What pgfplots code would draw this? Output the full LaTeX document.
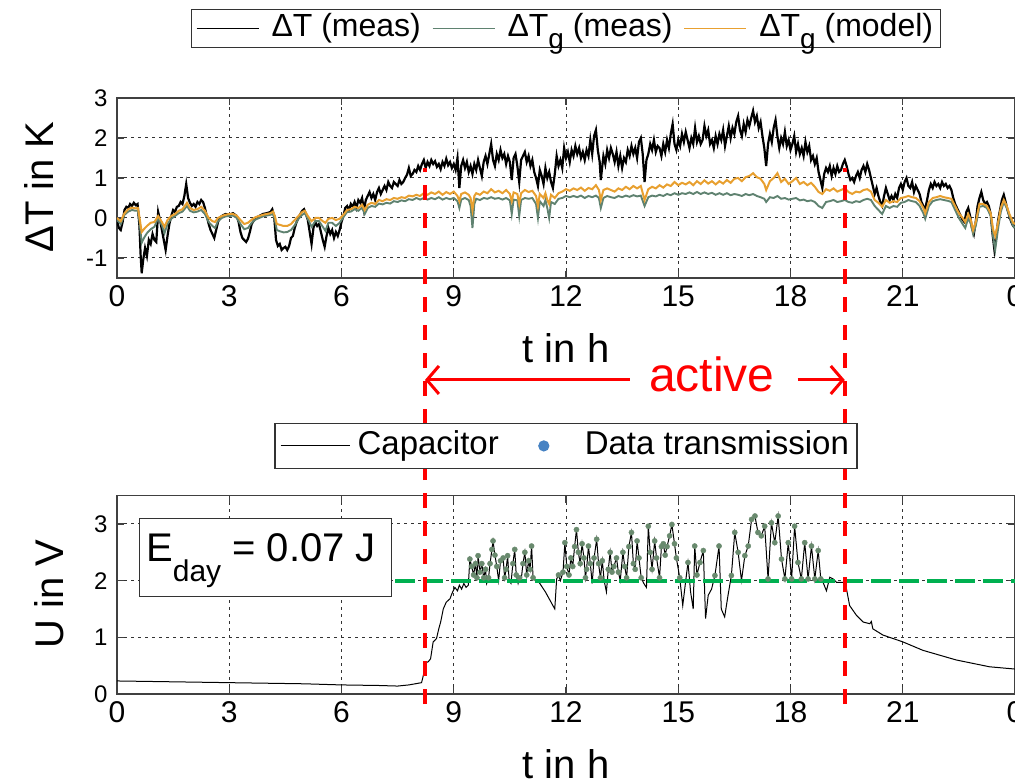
\documentclass[border=0pt]{standalone}
\usepackage{pgfplots}
\pgfplotsset{compat=1.18}
\usepackage{fontspec}
\setmainfont{Liberation Sans}
\usetikzlibrary{arrows.meta}
\definecolor{tealg}{RGB}{95,130,112}
\definecolor{orgm}{RGB}{232,160,48}
\definecolor{dtgreen}{RGB}{105,138,110}
\definecolor{dtblue}{RGB}{70,130,195}
\definecolor{grn}{RGB}{0,176,80}
\newcommand\subg{\raisebox{-0.38em}{\fontsize{28}{28}\selectfont g}}
\pgfplotsset{mystyle/.style={scale only axis, width=898pt, xmin=0, xmax=24,
  xtick={0,3,...,24}, xticklabels={0,3,6,9,12,15,18,21,0},
  grid=major, major grid style={dash pattern=on 3pt off 4pt, black!80, line width=1pt},
  axis line style={black!75, line width=1.5pt},
  tick style={black!75, line width=1.2pt}, tick align=inside, major tick length=7pt,
  xticklabel style={font=\fontsize{30}{30}\selectfont, yshift=-4pt},
  yticklabel style={font=\fontsize{24}{24}\selectfont, xshift=-6pt},
  /pgf/number format/assume math mode=true,
  label style={font=\fontsize{40}{40}\selectfont},
  legend cell align=left}}
\begin{document}
\begin{tikzpicture}
\path[use as bounding box] (0pt,0pt) rectangle (1015pt,784pt);
\clip (0pt,0pt) rectangle (1015pt,784pt);
% ---------------- top axis
\begin{axis}[mystyle, at={(117pt,506pt)}, anchor=south west, height=180pt,
  ymin=-1.5, ymax=3, ytick={-1,0,1,2,3},
  xlabel={t in h}, ylabel={ΔT in K},
  xlabel style={at={(axis description cs:0.5,-0.389)}, anchor=center},
  ylabel style={at={(axis description cs:-0.087,0.506)}, anchor=center},
  legend style={at={(0.5,1.278)}, anchor=south, legend columns=3, draw=black!80, line width=1.2pt,
    font=\fontsize{32}{32}\selectfont, inner xsep=4pt, inner ysep=3pt,
    nodes={inner ysep=0pt, inner xsep=3pt, text height=24pt, text depth=8pt},
    /tikz/every even column/.append style={column sep=8pt}}]
\addplot[black, line width=2.2pt, legend image code/.code={\draw[black,line width=1.3pt](0pt,0pt)--(62pt,0pt); \draw[draw=none] (62pt,0pt)--(72pt,0pt);}] coordinates {
(0.00,-0.05) (0.05,-0.25) (0.10,-0.30) (0.15,-0.10) (0.20,0.20) (0.25,0.28) (0.30,0.25) (0.35,0.35) (0.40,0.30) (0.45,0.38)
(0.50,0.32) (0.55,0.35) (0.60,-0.20) (0.63,-0.90) (0.66,-1.38) (0.70,-1.05) (0.75,-0.75) (0.80,-0.95) (0.85,-0.55) (0.90,-0.65)
(0.95,-0.40) (1.00,-0.55) (1.05,-0.60) (1.10,0.15) (1.15,-0.05) (1.20,-0.30) (1.25,-0.55) (1.30,-0.80) (1.35,-0.45) (1.40,-0.15)
(1.45,0.05) (1.50,0.20) (1.55,0.15) (1.60,0.28) (1.65,0.30) (1.70,0.40) (1.75,0.35) (1.80,0.55) (1.85,0.85) (1.90,0.50)
(1.95,0.38) (2.00,0.30) (2.05,0.35) (2.10,0.28) (2.15,0.40) (2.20,0.35) (2.25,0.45) (2.30,0.40) (2.35,0.25) (2.40,0.05)
(2.45,-0.15) (2.50,-0.30) (2.55,-0.40) (2.60,-0.50) (2.65,-0.30) (2.70,-0.10) (2.75,0.00) (2.80,0.05) (2.90,0.10) (3.00,0.08)
(3.10,0.12) (3.20,0.05) (3.25,-0.10) (3.30,-0.35) (3.35,-0.50) (3.40,-0.55) (3.45,-0.60) (3.50,-0.52) (3.55,-0.35) (3.60,-0.15)
(3.70,0.00) (3.80,0.05) (3.90,0.10) (4.00,0.12) (4.10,0.15) (4.15,0.22) (4.20,0.05) (4.25,-0.55) (4.30,-0.70) (4.35,-0.65)
(4.40,-0.80) (4.45,-0.75) (4.50,-0.72) (4.55,-0.80) (4.60,-0.70) (4.65,-0.50) (4.70,-0.45) (4.75,-0.25) (4.80,-0.10) (4.85,0.00)
(4.90,0.10) (4.95,0.18) (5.00,0.22) (5.05,0.10) (5.10,-0.05) (5.15,-0.35) (5.20,-0.65) (5.25,-0.25) (5.30,-0.10) (5.35,-0.20)
(5.40,-0.15) (5.45,-0.35) (5.50,-0.55) (5.55,-0.72) (5.60,-0.45) (5.65,-0.25) (5.70,-0.40) (5.75,-0.30) (5.80,-0.50) (5.85,-0.35)
(5.90,-0.45) (5.95,-0.30) (6.00,-0.10) (6.05,0.05) (6.10,0.25) (6.15,0.30) (6.20,0.20) (6.25,0.35) (6.30,0.28) (6.35,0.40)
(6.40,0.25) (6.45,0.45) (6.50,0.38) (6.55,0.50) (6.60,0.20) (6.65,0.45) (6.70,0.55) (6.75,0.65) (6.80,0.50) (6.85,0.60)
(6.90,0.45) (6.95,0.65) (7.00,0.75) (7.05,0.60) (7.10,0.70) (7.15,0.80) (7.20,0.70) (7.25,0.90) (7.30,0.80) (7.35,0.75)
(7.40,0.90) (7.45,0.85) (7.50,0.80) (7.55,0.95) (7.60,0.85) (7.65,0.90) (7.70,1.00) (7.75,1.08) (7.80,1.25) (7.85,1.05)
(7.90,1.10) (7.95,1.20) (8.00,1.15) (8.05,1.30) (8.10,1.20) (8.15,1.35) (8.20,1.45) (8.25,1.25) (8.30,1.40) (8.35,1.30)
(8.40,1.45) (8.45,1.35) (8.50,1.42) (8.55,1.28) (8.60,1.35) (8.65,1.22) (8.70,1.40) (8.75,1.30) (8.80,1.48) (8.85,1.32)
(8.90,1.40) (8.95,1.25) (9.00,1.35) (9.05,1.20) (9.10,1.50) (9.15,0.75) (9.20,1.30) (9.25,1.45) (9.30,1.25) (9.35,1.40)
(9.40,1.15) (9.45,1.30) (9.50,1.10) (9.55,1.35) (9.60,1.20) (9.65,1.45) (9.70,1.25) (9.75,1.05) (9.80,1.40) (9.85,1.55)
(9.90,1.35) (9.95,1.60) (10.00,1.85) (10.05,1.45) (10.10,1.30) (10.15,1.60) (10.20,1.45) (10.25,1.70) (10.30,1.50) (10.35,1.60)
(10.40,1.35) (10.45,1.55) (10.50,1.40) (10.55,0.95) (10.60,1.50) (10.65,1.60) (10.70,1.30) (10.75,0.90) (10.80,1.45) (10.85,1.55)
(10.90,1.65) (10.95,1.40) (11.00,1.55) (11.05,1.30) (11.10,1.45) (11.15,1.15) (11.20,1.00) (11.25,0.80) (11.30,1.20) (11.35,1.05)
(11.40,0.85) (11.45,1.25) (11.50,1.00) (11.55,1.15) (11.60,0.90) (11.65,0.75) (11.70,1.10) (11.75,1.55) (11.80,1.30) (11.85,1.45)
(11.90,1.25) (11.95,1.75) (12.00,1.50) (12.05,1.65) (12.10,1.40) (12.15,1.70) (12.20,1.55) (12.25,1.80) (12.30,1.60) (12.35,1.75)
(12.40,1.50) (12.45,1.65) (12.50,1.45) (12.55,1.70) (12.60,1.55) (12.65,1.95) (12.70,1.60) (12.75,2.05) (12.80,2.20) (12.85,1.70)
(12.90,1.40) (12.93,0.95) (12.97,1.30) (13.00,1.55) (13.05,1.35) (13.10,1.70) (13.15,1.50) (13.20,1.75) (13.25,1.60) (13.30,1.40)
(13.35,1.65) (13.40,1.30) (13.45,1.55) (13.50,1.25) (13.55,1.50) (13.60,1.40) (13.65,1.70) (13.70,1.55) (13.75,1.80) (13.80,1.60)
(13.85,1.75) (13.90,1.50) (13.95,1.90) (14.00,2.00) (14.05,1.60) (14.10,0.90) (14.15,1.45) (14.20,1.60) (14.25,1.85) (14.30,1.70)
(14.35,1.95) (14.40,1.65) (14.45,1.80) (14.50,1.75) (14.55,1.55) (14.60,1.85) (14.65,1.65) (14.70,1.95) (14.75,1.75) (14.80,2.10)
(14.85,2.35) (14.90,1.85) (14.95,1.70) (15.00,1.95) (15.05,1.80) (15.10,2.10) (15.15,1.90) (15.20,2.15) (15.25,1.95) (15.30,1.75)
(15.35,2.00) (15.40,1.85) (15.45,2.25) (15.50,1.90) (15.55,2.05) (15.60,1.85) (15.65,1.95) (15.70,2.30) (15.75,2.05) (15.80,2.20)
(15.85,1.85) (15.90,1.95) (15.95,1.75) (16.00,2.05) (16.05,1.85) (16.10,2.10) (16.15,1.95) (16.20,2.20) (16.25,1.80) (16.30,2.05)
(16.35,2.30) (16.40,2.00) (16.45,2.25) (16.50,2.10) (16.55,2.40) (16.60,2.55) (16.65,2.20) (16.70,2.05) (16.75,2.35) (16.80,2.15)
(16.85,2.45) (16.90,2.30) (16.95,2.50) (17.00,2.68) (17.05,2.40) (17.10,2.55) (17.15,2.25) (17.20,2.40) (17.25,2.05) (17.30,1.75)
(17.35,1.30) (17.40,1.85) (17.45,2.10) (17.50,1.90) (17.55,2.25) (17.60,2.45) (17.65,2.05) (17.70,1.75) (17.75,2.00) (17.80,1.85)
(17.85,2.15) (17.90,1.80) (17.95,1.95) (18.00,1.70) (18.05,1.85) (18.10,2.05) (18.15,1.65) (18.20,1.85) (18.25,1.60) (18.30,1.75)
(18.35,1.55) (18.40,1.90) (18.45,1.65) (18.50,1.80) (18.55,1.45) (18.60,1.55) (18.65,1.35) (18.70,1.50) (18.75,1.15) (18.80,0.95)
(18.85,0.75) (18.90,1.10) (18.95,1.25) (19.00,1.15) (19.05,1.30) (19.10,1.05) (19.15,1.25) (19.20,1.10) (19.25,1.30) (19.30,1.15)
(19.35,1.20) (19.40,1.35) (19.45,1.45) (19.50,1.30) (19.55,1.10) (19.60,0.95) (19.65,1.00) (19.70,0.90) (19.75,1.05) (19.80,1.15)
(19.85,1.00) (19.90,1.20) (19.95,1.30) (20.00,1.15) (20.05,1.35) (20.10,1.20) (20.15,1.00) (20.20,0.80) (20.25,0.60) (20.30,0.75)
(20.35,0.55) (20.40,0.40) (20.45,0.30) (20.50,0.55) (20.55,0.75) (20.60,0.60) (20.65,0.45) (20.70,0.55) (20.75,0.45) (20.80,0.60)
(20.85,0.50) (20.90,0.75) (20.95,0.85) (21.00,0.70) (21.05,0.90) (21.10,1.00) (21.15,0.80) (21.20,0.75) (21.25,0.90) (21.30,0.65)
(21.35,0.80) (21.40,0.70) (21.45,0.60) (21.50,0.40) (21.55,0.30) (21.60,0.22) (21.65,0.45) (21.70,0.70) (21.75,0.85) (21.80,0.75)
(21.85,0.90) (21.90,0.80) (21.95,0.85) (22.00,0.75) (22.05,0.90) (22.10,0.80) (22.15,0.85) (22.20,0.75) (22.25,0.80) (22.30,0.70)
(22.35,0.50) (22.40,0.35) (22.45,0.25) (22.50,0.15) (22.55,0.05) (22.60,-0.05) (22.65,-0.10) (22.70,0.15) (22.75,0.25) (22.80,0.05)
(22.85,-0.25) (22.90,-0.40) (22.95,-0.10) (23.00,0.30) (23.05,0.50) (23.10,0.65) (23.15,0.45) (23.20,0.35) (23.25,0.40) (23.30,0.30)
(23.35,0.10) (23.40,-0.40) (23.45,-0.80) (23.50,-0.45) (23.55,-0.05) (23.60,0.20) (23.65,0.45) (23.70,0.58) (23.75,0.40) (23.80,0.20)
(23.85,0.05) (23.90,-0.10) (23.95,-0.20) (24.00,-0.25)};
\addlegendentry{ΔT (meas)}
\addplot[tealg, line width=1.9pt, legend image code/.code={\draw[tealg,line width=1.3pt](0pt,0pt)--(62pt,0pt); \draw[draw=none] (62pt,0pt)--(72pt,0pt);}] coordinates {
(0,-0.05) (0.1,-0.15) (0.2,0.08) (0.3,0.16) (0.4,0.2) (0.5,0.18) (0.56,0.18) (0.6,-0.08) (0.66,-0.62) (0.72,-0.5)
(0.8,-0.38) (0.9,-0.28) (1.0,-0.22) (1.1,0.0) (1.2,-0.18) (1.27,-0.38) (1.35,-0.15) (1.45,-0.02) (1.55,0.05) (1.65,0.12)
(1.75,0.16) (1.87,0.3) (1.95,0.18) (2.05,0.14) (2.15,0.16) (2.25,0.2) (2.35,0.1) (2.45,-0.1) (2.55,-0.2) (2.62,-0.25)
(2.7,-0.08) (2.8,0.0) (2.9,0.04) (3.0,0.05) (3.1,0.06) (3.2,0.0) (3.3,-0.15) (3.4,-0.28) (3.5,-0.25) (3.6,-0.12)
(3.7,-0.04) (3.8,0.0) (3.9,0.04) (4.0,0.06) (4.1,0.08) (4.17,0.1) (4.22,-0.05) (4.27,-0.3) (4.35,-0.33) (4.45,-0.36)
(4.55,-0.35) (4.65,-0.3) (4.75,-0.18) (4.85,-0.02) (4.95,0.08) (5.02,0.12) (5.1,-0.02) (5.2,-0.22) (5.3,-0.08) (5.4,-0.08)
(5.5,-0.22) (5.57,-0.32) (5.65,-0.12) (5.75,-0.12) (5.85,-0.2) (5.95,-0.12) (6.05,0.02) (6.15,0.15) (6.25,0.16) (6.35,0.22)
(6.45,0.18) (6.55,0.26) (6.62,0.1) (6.7,0.25) (6.8,0.3) (6.9,0.28) (7.0,0.36) (7.1,0.34) (7.2,0.38) (7.3,0.36)
(7.4,0.42) (7.5,0.4) (7.6,0.44) (7.7,0.42) (7.8,0.47) (7.9,0.45) (8.0,0.5) (8.1,0.46) (8.2,0.5) (8.3,0.46)
(8.4,0.5) (8.5,0.47) (8.6,0.52) (8.7,0.46) (8.8,0.5) (8.9,0.47) (9.0,0.5) (9.1,0.42) (9.15,0.25) (9.2,0.46)
(9.3,0.5) (9.4,0.45) (9.45,0.3) (9.5,-0.25) (9.55,0.35) (9.6,0.48) (9.7,0.45) (9.8,0.5) (9.9,0.48) (10.0,0.52)
(10.1,0.48) (10.2,0.5) (10.3,0.46) (10.4,0.5) (10.5,0.44) (10.55,0.1) (10.6,0.46) (10.7,0.44) (10.75,0.05) (10.8,0.45)
(10.9,0.5) (11.0,0.48) (11.1,0.5) (11.2,0.35) (11.25,0.0) (11.3,0.42) (11.4,0.3) (11.45,0.45) (11.5,0.25) (11.55,0.0)
(11.6,0.4) (11.7,0.35) (11.8,0.48) (11.9,0.5) (12.0,0.55) (12.1,0.52) (12.2,0.55) (12.3,0.52) (12.4,0.56) (12.5,0.5)
(12.6,0.55) (12.7,0.52) (12.8,0.56) (12.88,0.5) (12.93,0.25) (13.0,0.5) (13.1,0.55) (13.2,0.52) (13.3,0.5) (13.4,0.55)
(13.5,0.52) (13.6,0.56) (13.7,0.53) (13.8,0.57) (13.9,0.54) (14.0,0.56) (14.1,0.3) (14.2,0.52) (14.3,0.56) (14.4,0.54)
(14.5,0.58) (14.6,0.55) (14.7,0.6) (14.8,0.57) (14.9,0.62) (15.0,0.58) (15.1,0.62) (15.2,0.6) (15.3,0.64) (15.4,0.6)
(15.5,0.65) (15.6,0.6) (15.7,0.64) (15.8,0.6) (15.9,0.63) (16.0,0.58) (16.1,0.62) (16.2,0.58) (16.3,0.62) (16.4,0.57)
(16.5,0.6) (16.6,0.58) (16.7,0.55) (16.8,0.6) (16.9,0.57) (17.0,0.6) (17.1,0.55) (17.2,0.52) (17.3,0.48) (17.35,0.4)
(17.45,0.52) (17.55,0.5) (17.65,0.55) (17.75,0.48) (17.85,0.5) (17.95,0.46) (18.05,0.48) (18.15,0.5) (18.25,0.44) (18.35,0.46)
(18.45,0.42) (18.55,0.44) (18.65,0.4) (18.75,0.3) (18.85,0.25) (18.95,0.4) (19.05,0.42) (19.15,0.45) (19.25,0.4) (19.35,0.42)
(19.45,0.45) (19.55,0.4) (19.65,0.38) (19.75,0.42) (19.85,0.4) (19.95,0.45) (20.05,0.48) (20.15,0.45) (20.25,0.3) (20.35,0.2)
(20.45,0.1) (20.55,0.3) (20.65,0.25) (20.75,0.3) (20.85,0.28) (20.95,0.38) (21.05,0.4) (21.15,0.45) (21.25,0.42) (21.35,0.4)
(21.45,0.3) (21.55,0.12) (21.6,-0.02) (21.7,0.3) (21.8,0.42) (21.9,0.45) (22.0,0.47) (22.1,0.45) (22.2,0.43) (22.3,0.4)
(22.4,0.2) (22.5,0.0) (22.6,-0.15) (22.67,-0.25) (22.75,0.0) (22.82,-0.15) (22.88,-0.4) (22.95,-0.2) (23.05,0.28) (23.15,0.3)
(23.25,0.25) (23.35,0.05) (23.42,-0.5) (23.47,-0.8) (23.55,-0.25) (23.62,0.15) (23.7,0.4) (23.78,0.25) (23.85,0.05) (23.95,-0.2)
(24,-0.25)};
\addlegendentry{ΔT\subg{} (meas)}
\addplot[orgm, line width=2pt, legend image code/.code={\draw[orgm,line width=1.5pt](0pt,0pt)--(62pt,0pt); \draw[draw=none] (62pt,0pt)--(72pt,0pt);}] coordinates {
(0,0.00) (0.1,-0.08) (0.2,0.12) (0.3,0.22) (0.4,0.26) (0.5,0.24) (0.56,0.25) (0.6,0.02) (0.66,-0.35) (0.72,-0.28)
(0.8,-0.2) (0.9,-0.12) (1.0,-0.1) (1.1,0.05) (1.2,-0.1) (1.27,-0.22) (1.35,-0.05) (1.45,0.05) (1.55,0.1) (1.65,0.18)
(1.75,0.22) (1.87,0.38) (1.95,0.25) (2.05,0.2) (2.15,0.22) (2.25,0.28) (2.35,0.18) (2.45,0.0) (2.55,-0.08) (2.62,-0.1)
(2.7,0.0) (2.8,0.05) (2.9,0.08) (3.0,0.1) (3.1,0.1) (3.2,0.06) (3.3,-0.05) (3.4,-0.15) (3.5,-0.12) (3.6,-0.04)
(3.7,0.02) (3.8,0.05) (3.9,0.08) (4.0,0.1) (4.1,0.12) (4.17,0.16) (4.22,0.05) (4.27,-0.15) (4.35,-0.17) (4.45,-0.2)
(4.55,-0.2) (4.65,-0.15) (4.75,-0.05) (4.85,0.05) (4.95,0.15) (5.02,0.18) (5.1,0.05) (5.2,-0.08) (5.3,0.0) (5.4,0.0)
(5.5,-0.08) (5.57,-0.12) (5.65,-0.02) (5.75,0.0) (5.85,-0.05) (5.95,-0.02) (6.05,0.08) (6.15,0.2) (6.25,0.22) (6.35,0.28)
(6.45,0.25) (6.55,0.33) (6.62,0.2) (6.7,0.33) (6.8,0.38) (6.9,0.35) (7.0,0.45) (7.1,0.42) (7.2,0.47) (7.3,0.45)
(7.4,0.5) (7.5,0.48) (7.6,0.52) (7.7,0.5) (7.8,0.56) (7.9,0.54) (8.0,0.58) (8.1,0.55) (8.2,0.62) (8.3,0.58)
(8.4,0.64) (8.5,0.6) (8.6,0.66) (8.7,0.58) (8.8,0.65) (8.9,0.6) (9.0,0.66) (9.1,0.55) (9.15,0.42) (9.2,0.6)
(9.3,0.64) (9.4,0.58) (9.45,0.5) (9.5,0.2) (9.55,0.55) (9.6,0.62) (9.7,0.58) (9.8,0.66) (9.9,0.62) (10.0,0.72)
(10.1,0.64) (10.2,0.68) (10.3,0.62) (10.4,0.7) (10.5,0.6) (10.55,0.42) (10.6,0.64) (10.7,0.6) (10.75,0.35) (10.8,0.62)
(10.9,0.7) (11.0,0.65) (11.1,0.68) (11.2,0.55) (11.25,0.3) (11.3,0.6) (11.4,0.5) (11.45,0.62) (11.5,0.45) (11.55,0.35)
(11.6,0.58) (11.7,0.5) (11.8,0.62) (11.9,0.66) (12.0,0.72) (12.1,0.68) (12.2,0.74) (12.3,0.7) (12.4,0.76) (12.5,0.68)
(12.6,0.75) (12.7,0.72) (12.8,0.82) (12.88,0.7) (12.93,0.45) (13.0,0.7) (13.1,0.74) (13.2,0.7) (13.3,0.66) (13.4,0.74)
(13.5,0.7) (13.6,0.78) (13.7,0.72) (13.8,0.8) (13.9,0.74) (14.0,0.8) (14.1,0.45) (14.2,0.72) (14.3,0.78) (14.4,0.74)
(14.5,0.82) (14.6,0.76) (14.7,0.84) (14.8,0.8) (14.9,0.9) (15.0,0.82) (15.1,0.88) (15.2,0.84) (15.3,0.9) (15.4,0.82)
(15.5,0.92) (15.6,0.85) (15.7,0.94) (15.8,0.86) (15.9,0.92) (16.0,0.84) (16.1,0.92) (16.2,0.86) (16.3,0.95) (16.4,0.88)
(16.5,0.98) (16.6,1.0) (16.7,0.92) (16.8,1.02) (16.9,1.05) (17.0,1.12) (17.1,1.02) (17.2,0.98) (17.3,0.85) (17.35,0.7)
(17.45,0.92) (17.55,1.0) (17.65,1.12) (17.75,0.9) (17.85,0.98) (17.95,0.85) (18.05,0.92) (18.15,1.0) (18.25,0.85) (18.35,0.9)
(18.45,0.82) (18.55,0.88) (18.65,0.78) (18.75,0.65) (18.85,0.6) (18.95,0.72) (19.05,0.68) (19.15,0.74) (19.25,0.66) (19.35,0.7)
(19.45,0.74) (19.55,0.65) (19.65,0.6) (19.75,0.66) (19.85,0.64) (19.95,0.7) (20.05,0.72) (20.15,0.66) (20.25,0.45) (20.35,0.38)
(20.45,0.28) (20.55,0.45) (20.65,0.38) (20.75,0.42) (20.85,0.4) (20.95,0.5) (21.05,0.52) (21.15,0.55) (21.25,0.52) (21.35,0.5)
(21.45,0.42) (21.55,0.25) (21.6,0.12) (21.7,0.4) (21.8,0.5) (21.9,0.52) (22.0,0.55) (22.1,0.52) (22.2,0.5) (22.3,0.48)
(22.4,0.3) (22.5,0.12) (22.6,0.0) (22.67,-0.1) (22.75,0.1) (22.82,-0.05) (22.88,-0.3) (22.95,-0.1) (23.05,0.35) (23.15,0.35)
(23.25,0.3) (23.35,0.12) (23.42,-0.3) (23.47,-0.45) (23.55,-0.1) (23.62,0.25) (23.7,0.45) (23.78,0.3) (23.85,0.1) (23.95,-0.12)
(24,-0.15)};
\addlegendentry{ΔT\subg{} (model)}
\end{axis}
% ---------------- bottom axis
\begin{axis}[mystyle, at={(117pt,90pt)}, anchor=south west, height=198.4pt,
  ymin=0, ymax=3.5, ytick={0,1,2,3}, clip=false,
  xlabel={t in h}, ylabel={U in V},
  xlabel style={at={(axis description cs:0.5,-0.353)}, anchor=center},
  ylabel style={at={(axis description cs:-0.076,0.504)}, anchor=center},
  legend style={at={(0.5,1.134)}, anchor=south, legend columns=2, draw=black!80, line width=1.2pt,
    font=\fontsize{33}{33}\selectfont, inner xsep=5pt, inner ysep=6pt,
    nodes={inner ysep=0pt, inner xsep=3pt, text height=25pt, text depth=8pt},
    /tikz/every even column/.append style={column sep=6pt}}]
\addplot[black, line width=1pt, legend image code/.code={\draw[black,line width=1pt](0pt,0pt)--(69pt,0pt); \draw[draw=none] (69pt,0pt)--(74pt,0pt);}] coordinates {
(0,0.23) (1,0.22) (2,0.21) (3,0.20) (4,0.19) (5,0.18) (6,0.16) (7,0.15) (7.5,0.14) (7.8,0.16)
(8.14,0.2) (8.21,0.39) (8.25,0.55) (8.32,0.57) (8.38,0.62) (8.45,0.92) (8.5,0.95) (8.54,0.98) (8.6,1.15) (8.65,1.27)
(8.72,1.5) (8.8,1.62) (8.9,1.68) (8.95,1.77) (9.03,1.88) (9.1,1.82) (9.15,1.92) (9.21,1.85) (9.27,1.95) (9.33,1.88)
(9.39,1.92) (9.43,2.38) (9.48,2.25) (9.53,2.1) (9.58,2.3) (9.62,2.05) (9.65,2.44) (9.7,2.15) (9.75,2.3) (9.8,2.05)
(9.85,2.2) (9.88,1.95) (9.93,2.05) (9.97,2.3) (10.02,2.55) (10.05,2.7) (10.1,2.45) (10.15,2.25) (10.2,2.0) (10.25,2.35)
(10.32,2.4) (10.36,2.05) (10.4,2.2) (10.44,2.44) (10.48,2.0) (10.53,1.95) (10.58,2.3) (10.63,2.55) (10.67,2.1) (10.72,1.95)
(10.76,2.05) (10.8,2.0) (10.85,2.3) (10.9,2.5) (10.95,2.1) (11.0,2.35) (11.04,2.2) (11.08,2.61) (11.12,2.05) (11.18,2.0)
(11.25,2.0) (11.3,1.95) (11.45,1.8) (11.6,1.62) (11.7,1.5) (11.75,2.03) (11.8,2.1) (11.85,2.0) (11.92,2.15) (11.97,2.67)
(12.02,2.25) (12.08,2.1) (12.13,2.4) (12.18,2.25) (12.23,2.6) (12.28,2.9) (12.33,2.5) (12.38,2.3) (12.43,2.65) (12.48,2.4)
(12.52,2.05) (12.55,2.2) (12.6,2.61) (12.65,2.3) (12.7,1.95) (12.75,2.4) (12.82,2.73) (12.87,2.3) (12.92,2.05) (12.97,2.35)
(13.02,2.0) (13.08,1.8) (13.13,2.2) (13.18,2.5) (13.23,2.15) (13.28,2.25) (13.35,2.4) (13.4,2.15) (13.45,2.0) (13.52,2.5)
(13.57,2.25) (13.62,2.05) (13.68,2.6) (13.75,2.85) (13.8,2.3) (13.85,2.2) (13.9,2.7) (13.95,2.4) (14.01,2.05) (14.08,1.95)
(14.15,1.88) (14.2,2.96) (14.25,2.5) (14.3,2.2) (14.37,2.7) (14.42,2.4) (14.5,2.05) (14.55,2.6) (14.6,2.65) (14.65,2.45)
(14.7,2.6) (14.77,2.79) (14.83,2.99) (14.9,2.65) (14.95,2.4) (15.04,2.05) (15.12,1.56) (15.2,2.0) (15.26,2.32) (15.33,1.8)
(15.4,1.5) (15.44,2.61) (15.5,2.1) (15.58,2.32) (15.67,2.53) (15.73,1.33) (15.8,1.74) (15.89,1.85) (15.98,2.09) (16.09,2.61)
(16.15,1.5) (16.24,1.36) (16.33,1.74) (16.42,2.09) (16.51,2.85) (16.6,2.5) (16.69,2.0) (16.78,2.44) (16.87,2.61) (16.96,3.08)
(17.05,3.14) (17.13,2.85) (17.22,2.79) (17.31,2.96) (17.4,2.03) (17.49,3.02) (17.58,2.67) (17.67,3.14) (17.76,2.38) (17.85,2.03)
(17.94,2.67) (18.03,2.03) (18.11,2.96) (18.2,2.32) (18.29,2.03) (18.38,2.67) (18.47,2.03) (18.56,2.61) (18.65,2.03) (18.74,2.53)
(18.81,2.03) (18.87,1.97) (18.96,1.82) (19.05,2.06) (19.14,2.03) (19.23,1.97) (19.41,1.97) (19.48,1.91) (19.58,1.56) (19.76,1.39)
(19.94,1.27) (20.12,1.24) (20.16,1.28) (20.2,1.15) (20.47,1.04) (21.0,0.92) (21.54,0.77) (22.43,0.6) (23.32,0.48) (24,0.44)};
\addlegendentry{Capacitor}
\addplot[only marks, mark=*, mark size=2.6pt, dtgreen, forget plot] coordinates {
(9.43,2.38) (9.48,2.25) (9.53,2.1) (9.58,2.3) (9.62,2.05) (9.65,2.44) (9.7,2.15) (9.75,2.3) (9.8,2.05) (9.85,2.2)
(9.93,2.05) (9.97,2.3) (10.02,2.55) (10.05,2.7) (10.1,2.45) (10.15,2.25) (10.25,2.35) (10.32,2.4) (10.36,2.05) (10.4,2.2)
(10.44,2.44) (10.58,2.3) (10.63,2.55) (10.67,2.1) (10.76,2.05) (10.85,2.3) (10.9,2.5) (10.95,2.1) (11.0,2.35) (11.04,2.2)
(11.08,2.61) (11.12,2.05) (11.8,2.1) (11.92,2.15) (11.97,2.67) (12.02,2.25) (12.08,2.1) (12.13,2.4) (12.18,2.25) (12.23,2.6)
(12.28,2.9) (12.33,2.5) (12.38,2.3) (12.43,2.65) (12.48,2.4) (12.52,2.05) (12.55,2.2) (12.6,2.61) (12.65,2.3) (12.75,2.4)
(12.82,2.73) (12.87,2.3) (12.92,2.05) (12.97,2.35) (13.13,2.2) (13.18,2.5) (13.23,2.15) (13.28,2.25) (13.35,2.4) (13.4,2.15)
(13.52,2.5) (13.57,2.25) (13.62,2.05) (13.68,2.6) (13.75,2.85) (13.8,2.3) (13.85,2.2) (13.9,2.7) (13.95,2.4) (14.01,2.05)
(14.2,2.96) (14.25,2.5) (14.3,2.2) (14.37,2.7) (14.42,2.4) (14.5,2.05) (14.55,2.6) (14.6,2.65) (14.65,2.45) (14.7,2.6)
(14.77,2.79) (14.83,2.99) (14.9,2.65) (14.95,2.4) (15.04,2.05) (15.26,2.32) (15.44,2.61) (15.5,2.1) (15.58,2.32) (15.67,2.53)
(15.98,2.09) (16.09,2.61) (16.42,2.09) (16.51,2.85) (16.6,2.5) (16.78,2.44) (16.87,2.61) (16.96,3.08) (17.05,3.14) (17.13,2.85)
(17.22,2.79) (17.31,2.96) (17.4,2.03) (17.49,3.02) (17.58,2.67) (17.67,3.14) (17.76,2.38) (17.85,2.03) (17.94,2.67) (18.03,2.03)
(18.11,2.96) (18.2,2.32) (18.29,2.03) (18.38,2.67) (18.47,2.03) (18.56,2.61) (18.65,2.03) (18.74,2.53) (18.81,2.03)};
\addlegendimage{legend image code/.code={\draw[draw=none] (0pt,0pt)--(74pt,0pt); \fill[dtblue] (36pt,0pt) circle (5pt);}}
\addlegendentry{Data transmission}
\addplot[grn, line width=4pt, dash pattern=on 20pt off 8pt, forget plot] coordinates {(7.43,2) (24,2)};
% energy box
\node[draw=black!80, line width=1.2pt, fill=white, minimum width=252pt, minimum height=78pt, anchor=north west, inner sep=0pt] at (axis cs:0.59,3.1) {};
\node[anchor=base west, inner sep=0pt, font=\fontsize{40}{40}\selectfont] at (axis cs:0.775,2.33) {E\raisebox{-20pt}{\fontsize{30}{30}\selectfont day} = 0.07 J};
% active markers
\draw[red, line width=4pt, dash pattern=on 15pt off 13pt] (axis cs:8.23,-0.18) -- (axis cs:8.23,9.28);
\draw[red, line width=4pt, dash pattern=on 15pt off 13pt] (axis cs:19.45,-0.18) -- (axis cs:19.45,9.28);
\draw[red, line width=3pt, -{Straight Barb[length=12pt,width=28pt]}] (axis cs:13.7,5.54) -- (axis cs:8.23,5.54);
\draw[red, line width=3pt, -{Straight Barb[length=12pt,width=28pt]}] (axis cs:18.19,5.54) -- (axis cs:19.45,5.54);
\node[red, anchor=base, inner sep=0pt, font=\fontsize{48}{48}\selectfont] at (axis cs:15.9,5.33) {active};
\end{axis}
\end{tikzpicture}
\end{document}
